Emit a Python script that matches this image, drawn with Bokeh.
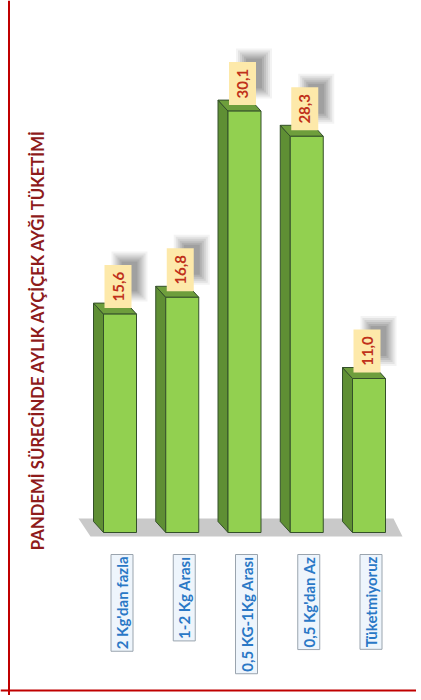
import math
from bokeh.plotting import figure
from bokeh.models import Range1d, Span, Label, ColumnDataSource
from bokeh.core.properties import value
from bokeh.embed import file_html
from bokeh.resources import INLINE

# ---- data ----
categories = ["2 Kg'dan fazla", "1-2 Kg Arası", "0,5 KG-1Kg Arası", "0,5 Kg'dan Az", "Tüketmiyoruz"]
values = [15.6, 16.8, 30.1, 28.3, 11.0]
value_labels = ["15,6", "16,8", "30,1", "28,3", "11,0"]
title = "PANDEMİ SÜRECİNDE AYLIK AYÇİÇEK AYĞI TÜKETİMİ"

# ---- layout (pixels) ----
W, H = 416, 695
PXY = 14.0          # px per value unit
ZERO_FY = 532       # frame px of value 0
X0_FX = 119.5       # frame px of first category centre
PXX = 62.25         # px per category


def ux(px):
    return px / PXX


def uy(px):
    return px / PXY


p = figure(width=W, height=H, output_backend="svg", toolbar_location=None,
           x_range=Range1d(-X0_FX / PXX, (W - X0_FX) / PXX),
           y_range=Range1d(-(H - ZERO_FY) / PXY, ZERO_FY / PXY),
           min_border=0, background_fill_color="white", border_fill_color="white")
p.axis.visible = False
p.grid.visible = False
p.outline_line_color = None

FONT = "Lato"
n = len(values)
xs = list(range(n))

# floor
last = n - 1
p.patch([0 - ux(41.5), last + ux(24.5), last + ux(33.5), 0 - ux(29.5)],
        [uy(14), uy(14), -uy(4), -uy(4)],
        fill_color="#C9C9C9", line_color=None)

HALF = 16.5
DX, DY = 10, 11
side_xs, side_ys, top_xs, top_ys = [], [], [], []
for i, v in zip(xs, values):
    L, R = i - ux(HALF), i + ux(HALF)
    side_xs.append([L - ux(DX), L, L, L - ux(DX)])
    side_ys.append([v + uy(DY), v, 0, uy(DY)])
    top_xs.append([L - ux(DX), R - ux(DX), R, L])
    top_ys.append([v + uy(DY), v + uy(DY), v, v])

p.patches(side_xs, side_ys, fill_color="#5F8F34", line_color="#34502A", line_width=1)
p.patches(top_xs, top_ys, fill_color="#6E9E3C", line_color="#34502A", line_width=1)
src = ColumnDataSource(dict(x=xs, v=values, lab=value_labels))
p.vbar(x="x", top="v", bottom=0, width=ux(2 * HALF), source=src,
       fill_color="#92D050", line_color="#34502A", line_width=1)

# soft shadows behind value boxes
for grow, a in [(12, 0.07), (8, 0.10), (4, 0.12), (0, 0.14), (-4, 0.16), (-8, 0.18)]:
    p.rect(x=[i - ux(2) + ux(11.5) for i in xs],
           y=[v + uy(6 + 21.5 + 10) for v in values],
           width=ux(24 + grow), height=uy(38 + grow),
           fill_color="#5A5A5A", fill_alpha=a, line_color=None)

# value boxes
p.rect(x=[i - ux(2) for i in xs], y=[v + uy(6 + 21.5) for v in values],
       width=ux(27), height=uy(43), fill_color="#FDE9AA", line_color=None)
p.text(x=[i - ux(2) for i in xs], y=[v + uy(6 + 21.5) for v in values],
       text=value_labels, angle=math.pi / 2, text_align="center", text_baseline="middle",
       text_font=value(FONT), text_font_style="bold", text_font_size="15px",
       text_color="#C0311A")

# category labels
for i, c in zip(xs, categories):
    p.add_layout(Label(x=i + ux(2), y=-uy(22), text=c, angle=math.pi / 2,
                       text_align="right", text_baseline="middle",
                       text_font=FONT, text_font_style="bold", text_font_size="15px",
                       text_color="#2A78C6", background_fill_color="#EEF5FC",
                       border_line_color="#9AA4AE", border_line_width=1, padding=2))

# title
p.add_layout(Label(x=-X0_FX / PXX + ux(37), y=(ZERO_FY - 339) / PXY, text=title,
                   angle=math.pi / 2, text_align="center", text_baseline="middle",
                   text_font=FONT, text_font_style="bold", text_font_size="16.7px",
                   text_color="#8E1B1B"))

# red frame (left and bottom edges)
p.add_layout(Span(location=-X0_FX / PXX + ux(8.5), dimension="height",
                  line_color="#C00000", line_width=2))
p.add_layout(Span(location=(ZERO_FY - 690) / PXY, dimension="width",
                  line_color="#C00000", line_width=2))

open("out.html", "w").write(file_html(p, INLINE))
